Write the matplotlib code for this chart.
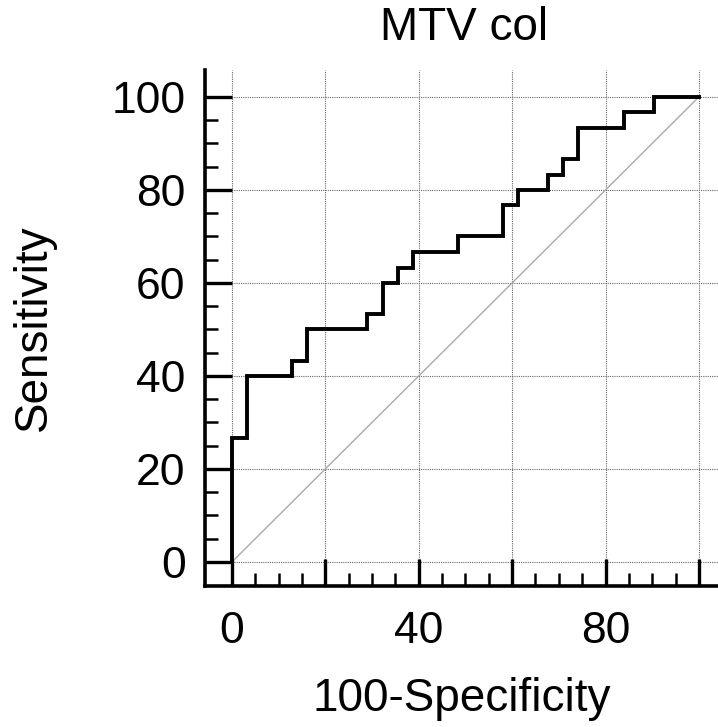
import matplotlib
matplotlib.use("Agg")
import matplotlib.pyplot as plt
from matplotlib.ticker import MultipleLocator, FixedLocator, FuncFormatter

# ROC curve corner points (steps-post)
fpr = [0, 0, 3.2, 12.9, 16.1, 29.0, 32.3, 35.5, 38.7, 48.4, 58.1, 61.3, 67.7, 71.0, 74.2, 83.9, 90.3, 100]
sens = [0, 26.7, 40, 43.3, 50, 53.3, 60, 63.3, 66.7, 70, 76.7, 80, 83.3, 86.7, 93.3, 96.7, 100, 100]

x_labels = [0, 40, 80]
y_labels = [0, 20, 40, 60, 80, 100]

plt.rcParams['font.family'] = ['Liberation Sans', 'DejaVu Sans']

fig = plt.figure(figsize=(7.18, 7.27), dpi=100)
W, H = 718, 727
ax = fig.add_axes([205 / W, 1 - 586 / H, (718 - 205) / W, (586 - 70) / H])

ax.set_xlim(-5.8, 104.1)
ax.set_ylim(-5.2, 105.8)

# grid and reference diagonal
for v in range(0, 101, 20):
    ax.axvline(v, color='#666666', lw=0.8, ls=(0, (1, 1)), zorder=1)
    ax.axhline(v, color='#666666', lw=0.8, ls=(0, (1, 1)), zorder=1)
ax.plot([0, 100], [0, 100], color='#aaaaaa', lw=1.0, zorder=2)

ax.plot(fpr, sens, drawstyle='steps-post', color='black', lw=2.8, zorder=3,
        solid_joinstyle='miter')

for s in ['top', 'right']:
    ax.spines[s].set_visible(False)
for s in ['left', 'bottom']:
    ax.spines[s].set_linewidth(2.6)

minor = [v for v in range(5, 100, 5) if v % 20]
ax.xaxis.set_major_locator(FixedLocator(list(range(0, 101, 20))))
ax.xaxis.set_minor_locator(FixedLocator(minor))
ax.yaxis.set_major_locator(FixedLocator(y_labels))
ax.yaxis.set_minor_locator(FixedLocator(minor))
ax.xaxis.set_major_formatter(FuncFormatter(lambda v, p: f"{v:.0f}" if round(v) in x_labels else ""))
ax.yaxis.set_major_formatter(FuncFormatter(lambda v, p: f"{v:.0f}"))

ax.tick_params(which='major', direction='in', length=19.5, width=2.4, labelsize=32, pad=14)
ax.tick_params(which='minor', direction='in', length=9.5, width=1.8)
ax.tick_params(axis='x', which='major', pad=18)

ax.set_xlabel('100-Specificity', fontsize=33, labelpad=18)
ax.set_ylabel('Sensitivity', fontsize=33, labelpad=40)
fig.text(464 / W, 1 - 28 / H, 'MTV col', fontsize=33, ha='center', va='center')

fig.savefig('out.png', dpi=100)
